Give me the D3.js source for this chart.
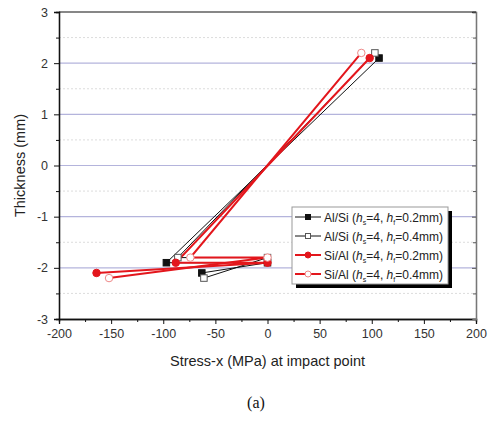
<!DOCTYPE html>
<html>
<head>
<meta charset="utf-8">
<script src="https://cdn.jsdelivr.net/npm/d3@7"></script>
<style>
  body { margin: 0; background: #fff; }
  svg { display: block; }
  text { font-family: "Liberation Sans", Arial, sans-serif; }
</style>
</head>
<body>
<div class="stress-chart"></div>
<script>
'use strict';

// stress (MPa) and thickness (mm) for each series, top surface -> interface -> bottom
const alSi02x = [107, -97, 0, -63];
const alSi02y = [2.1, -1.9, -1.9, -2.1];
const alSi04x = [103, -86, 0, -61];
const alSi04y = [2.2, -1.8, -1.8, -2.2];
const siAl02x = [98, -88, 0, -164];
const siAl02y = [2.1, -1.9, -1.9, -2.1];
const siAl04x = [90, -74, 0, -152];
const siAl04y = [2.2, -1.8, -1.8, -2.2];

const xTicks = [-200, -150, -100, -50, 0, 50, 100, 150, 200];
const yTicks = [-3, -2, -1, 0, 1, 2, 3];

const series = [
    {name: 'Al/Si', hf: '0.2mm', xs: alSi02x, ys: alSi02y, color: '#111', width: 1, marker: 'square', fill: true},
    {name: 'Al/Si', hf: '0.4mm', xs: alSi04x, ys: alSi04y, color: '#111', width: 1, marker: 'square', fill: false},
    {name: 'Si/Al', hf: '0.2mm', xs: siAl02x, ys: siAl02y, color: '#e3161c', width: 2, marker: 'circle', fill: true},
    {name: 'Si/Al', hf: '0.4mm', xs: siAl04x, ys: siAl04y, color: '#e3161c', width: 2, marker: 'circle', fill: false}
];

const W = 489, H = 423;
const margin = {top: 12, right: 13, bottom: 104, left: 59};
const width = W - margin.left - margin.right;
const height = H - margin.top - margin.bottom;

const svg = d3.select('.stress-chart').append('svg')
    .attr('width', W)
    .attr('height', H);

const chart = svg.append('g')
    .attr('transform', 'translate(' + margin.left + ',' + margin.top + ')');

const x = d3.scaleLinear().domain([-200, 200]).range([0, width]);
const y = d3.scaleLinear().domain([-3, 3]).range([height, 0]);
const plain = (d) => String(d);

// minor (dotted) and major horizontal grid lines
chart.append('g').selectAll('line')
    .data(d3.range(-2.5, 3, 1))
    .enter().append('line')
    .attr('x1', 0).attr('x2', width)
    .attr('y1', (d) => y(d)).attr('y2', (d) => y(d))
    .attr('stroke', '#dcdcdc')
    .attr('stroke-dasharray', '2,2');

chart.append('g').selectAll('line')
    .data(yTicks.filter((d) => d > -3 && d < 3))
    .enter().append('line')
    .attr('x1', 0).attr('x2', width)
    .attr('y1', (d) => y(d)).attr('y2', (d) => y(d))
    .attr('stroke', '#b4b4dc')
    .attr('stroke-width', 1.2);

// axes
const xAxis = chart.append('g')
    .attr('transform', 'translate(0,' + height + ')')
    .call(d3.axisBottom(x).tickValues(xTicks).tickSize(5).tickPadding(5).tickFormat(plain));
const xMinor = chart.append('g')
    .attr('transform', 'translate(0,' + height + ')')
    .call(d3.axisBottom(x).tickValues(d3.range(-175, 200, 50)).tickSize(3).tickFormat(''));

const yAxis = chart.append('g')
    .call(d3.axisLeft(y).tickValues(yTicks).tickSize(5).tickPadding(6).tickFormat(plain));
const yMinor = chart.append('g')
    .call(d3.axisLeft(y).tickValues(d3.range(-2.5, 3, 1)).tickSize(3).tickFormat(''));

const yRight = chart.append('g')
    .attr('transform', 'translate(' + width + ',0)')
    .call(d3.axisLeft(y).tickValues(yTicks).tickSize(4).tickFormat(''));
const yRightMinor = chart.append('g')
    .attr('transform', 'translate(' + width + ',0)')
    .call(d3.axisLeft(y).tickValues(d3.range(-2.5, 3, 1)).tickSize(3).tickFormat(''));

[xAxis, xMinor, yAxis, yMinor].forEach((a) => {
    a.select('.domain').attr('stroke', '#111').attr('stroke-width', 1.3);
    a.selectAll('.tick line').attr('stroke', '#111');
    a.selectAll('.tick text').attr('fill', '#333').style('font-size', '12.5px');
});
[yRight, yRightMinor].forEach((a) => {
    a.select('.domain').attr('stroke', '#777').attr('stroke-width', 1.3);
    a.selectAll('.tick line').attr('stroke', '#555');
});

chart.append('line')
    .attr('x1', 0).attr('x2', width).attr('y1', 0).attr('y2', 0)
    .attr('stroke', '#111').attr('stroke-width', 1.2);

// axis titles
chart.append('text')
    .attr('x', width / 2)
    .attr('y', height + 47)
    .attr('text-anchor', 'middle')
    .attr('fill', '#222')
    .style('font-size', '14.5px')
    .text('Stress-x (MPa) at impact point');

svg.append('text')
    .attr('transform', 'translate(21,' + (margin.top + height / 2) + ') rotate(-90)')
    .attr('text-anchor', 'middle')
    .attr('dominant-baseline', 'middle')
    .attr('fill', '#222')
    .style('font-size', '14.5px')
    .text('Thickness (mm)');

svg.append('text')
    .attr('x', 256)
    .attr('y', 408)
    .attr('text-anchor', 'middle')
    .style('font-family', '"Liberation Serif", "Times New Roman", serif')
    .style('font-size', '16px')
    .attr('fill', '#111')
    .text('(a)');

// lines and markers
const line = d3.line()
    .x((d) => x(d[0]))
    .y((d) => y(d[1]));

const drawMarker = (g, s, cx, cy, size) => {
    if (s.marker === 'square') {
        g.append('rect')
            .attr('x', cx - size / 2).attr('y', cy - size / 2)
            .attr('width', size).attr('height', size)
            .attr('fill', s.fill ? s.color : '#fff')
            .attr('stroke', s.fill ? s.color : '#555')
            .attr('stroke-width', 1);
    } else {
        g.append('circle')
            .attr('cx', cx).attr('cy', cy).attr('r', size / 2 + 0.5)
            .attr('fill', s.fill ? s.color : '#fff')
            .attr('stroke', s.fill ? s.color : '#e88')
            .attr('stroke-width', 1);
    }
};

const plot = chart.append('g');
series.forEach((s) => {
    const pts = s.xs.map((v, i) => [v, s.ys[i]]);
    plot.append('path')
        .datum(pts)
        .attr('d', line)
        .attr('fill', 'none')
        .attr('stroke', s.color)
        .attr('stroke-width', s.width);
});
series.forEach((s) => {
    s.xs.forEach((v, i) => drawMarker(plot, s, x(v), y(s.ys[i]), 6.5));
});

// legend
const lg = svg.append('g').attr('transform', 'translate(292,207)');
const lgW = 156, lgH = 77;
lg.append('rect')
    .attr('x', 4).attr('y', 4).attr('width', lgW).attr('height', lgH)
    .attr('fill', '#000');
lg.append('rect')
    .attr('x', 0).attr('y', 0).attr('width', lgW).attr('height', lgH)
    .attr('fill', '#fff').attr('stroke', '#999').attr('stroke-width', 1);

series.forEach((s, i) => {
    const row = lg.append('g').attr('transform', 'translate(0,' + (10 + i * 19) + ')');
    row.append('line')
        .attr('x1', 3).attr('x2', 29).attr('y1', 0).attr('y2', 0)
        .attr('stroke', s.color).attr('stroke-width', s.width);
    drawMarker(row, s, 16, 0, 5);
    const t = row.append('text')
        .attr('x', 32).attr('y', 4.5)
        .attr('fill', '#222')
        .style('font-size', '12px');
    t.append('tspan').text(s.name + ' (');
    t.append('tspan').style('font-style', 'italic').text('h');
    t.append('tspan').attr('dy', 3).style('font-size', '7px').text('s');
    t.append('tspan').attr('dy', -3).text('=4, ');
    t.append('tspan').style('font-style', 'italic').text('h');
    t.append('tspan').attr('dy', 3).style('font-size', '7px').text('f');
    t.append('tspan').attr('dy', -3).text('=' + s.hf + ')');
});
</script>
</body>
</html>
